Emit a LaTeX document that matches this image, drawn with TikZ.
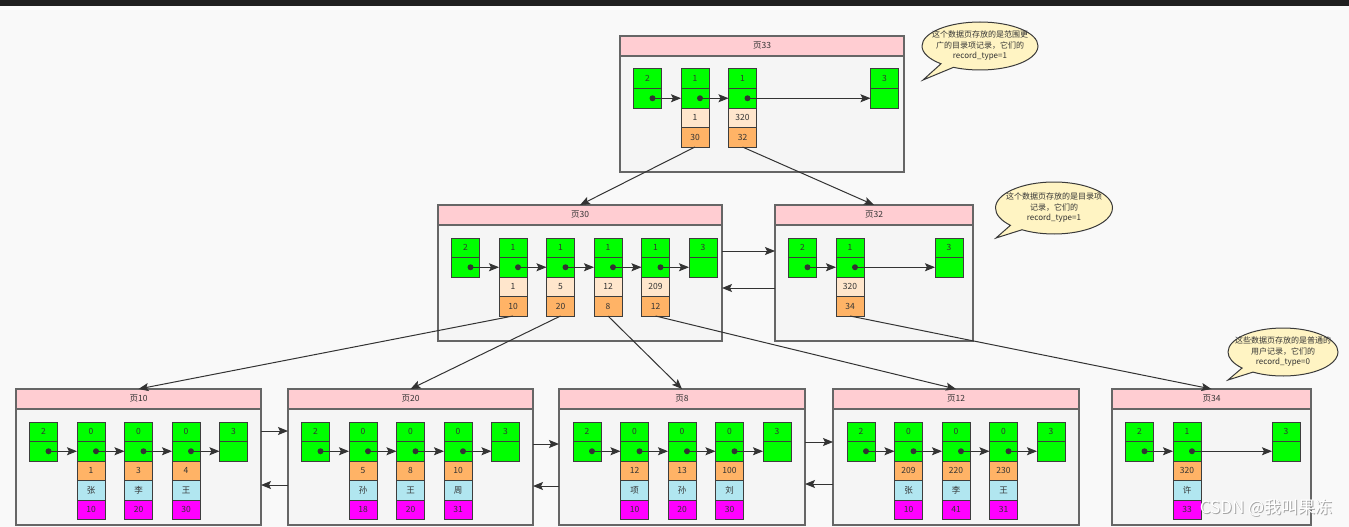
\documentclass[tikz,border=0pt]{standalone}
\usepackage{fontspec}
\setmainfont{Noto Sans CJK SC}
\usetikzlibrary{positioning,shapes.callouts,arrows.meta}

\definecolor{bgc}{HTML}{F9F9F9}
\definecolor{barc}{HTML}{1F1F1F}
\definecolor{pagefill}{HTML}{F5F5F5}
\definecolor{pageline}{HTML}{666666}
\definecolor{titlefill}{HTML}{FFCDD2}
\definecolor{recgreen}{HTML}{00FF00}
\definecolor{keylight}{HTML}{FFE6CC}
\definecolor{keyorange}{HTML}{FFB366}
\definecolor{nameblue}{HTML}{B1E6F0}
\definecolor{valmag}{HTML}{FF00FF}
\definecolor{notefill}{HTML}{FFF4C3}
\definecolor{notec}{HTML}{3A3A3A}
\definecolor{cellline}{HTML}{3D3D3D}
\definecolor{linec}{HTML}{333333}
\definecolor{txtc}{HTML}{333333}

\begin{document}
\begin{tikzpicture}[x=1pt, y=-1pt, node distance=0pt, font=\fontsize{8.5}{10}\selectfont,
    cell/.style = {draw=cellline, line width=1pt, minimum width=28pt, minimum height=19.5pt, inner sep=0pt, outer sep=0pt, text=txtc},
    grn/.style = {cell, fill=recgreen},
    lk/.style = {cell, fill=keylight},
    ok/.style = {cell, fill=keyorange},
    bn/.style = {cell, fill=nameblue},
    mv/.style = {cell, fill=valmag},
    ptitle/.style = {draw=pageline, line width=1.3pt, fill=titlefill, text=txtc, minimum height=20pt, inner sep=0pt, outer sep=0pt, anchor=north west},
    pbody/.style = {draw=pageline, line width=1.3pt, fill=pagefill, minimum height=116pt, inner sep=0pt, outer sep=0pt},
    dot/.style = {circle, fill=linec, minimum size=6pt, inner sep=0pt},
    link/.style = {draw=linec, line width=1pt, -{Stealth[length=10pt, width=8pt, inset=2pt]}},
    note/.style = {ellipse callout, draw=notec, line width=1pt, fill=notefill, inner sep=0pt, callout pointer width=10pt},
    notetext/.style = {align=center, text=txtc, font=\fontsize{8}{10.5}\selectfont}]

    \useasboundingbox (0,0) rectangle (1349,527);
    \fill[bgc] (0,0) rectangle (1349,527);
    \fill[barc] (0,0) rectangle (1349,6);

    % page 33
    \node[ptitle, minimum width=284pt] (p33t) at (620,36) {页33};
    \node[pbody, minimum width=284pt, below=of p33t] (p33) {};
    \node[grn, below right=13pt and 13.5pt of p33t.south west] (33-0) {2};
    \node[grn, below=of 33-0] (33-0b) {};
    \node[grn, right=19.5pt of 33-0] (33-1) {1};
    \node[grn, below=of 33-1] (33-1b) {};
    \node[lk, below=of 33-1b] (33-1k) {1};
    \node[ok, below=of 33-1k] (33-1p) {30};
    \node[grn, right=19.5pt of 33-1] (33-2) {1};
    \node[grn, below=of 33-2] (33-2b) {};
    \node[lk, below=of 33-2b] (33-2k) {320};
    \node[ok, below=of 33-2k] (33-2p) {32};
    \node[grn, right=114pt of 33-2] (33-3) {3};
    \node[grn, below=of 33-3] (33-3b) {};
    \node[dot] (33-0d) at ([xshift=-9pt]33-0b.east) {};
    \node[dot] (33-1d) at ([xshift=-9pt]33-1b.east) {};
    \node[dot] (33-2d) at ([xshift=-9pt]33-2b.east) {};
    \draw[link] (33-0d.center) -- (33-1b.west);
    \draw[link] (33-1d.center) -- (33-2b.west);
    \draw[link] (33-2d.center) -- (33-3b.west);

    % page 30
    \node[ptitle, minimum width=284pt] (p30t) at (438,205) {页30};
    \node[pbody, minimum width=284pt, below=of p30t] (p30) {};
    \node[grn, below right=13pt and 13.5pt of p30t.south west] (30-0) {2};
    \node[grn, below=of 30-0] (30-0b) {};
    \node[grn, right=19.5pt of 30-0] (30-1) {1};
    \node[grn, below=of 30-1] (30-1b) {};
    \node[lk, below=of 30-1b] (30-1k) {1};
    \node[ok, below=of 30-1k] (30-1p) {10};
    \node[grn, right=19.5pt of 30-1] (30-2) {1};
    \node[grn, below=of 30-2] (30-2b) {};
    \node[lk, below=of 30-2b] (30-2k) {5};
    \node[ok, below=of 30-2k] (30-2p) {20};
    \node[grn, right=19.5pt of 30-2] (30-3) {1};
    \node[grn, below=of 30-3] (30-3b) {};
    \node[lk, below=of 30-3b] (30-3k) {12};
    \node[ok, below=of 30-3k] (30-3p) {8};
    \node[grn, right=19.5pt of 30-3] (30-4) {1};
    \node[grn, below=of 30-4] (30-4b) {};
    \node[lk, below=of 30-4b] (30-4k) {209};
    \node[ok, below=of 30-4k] (30-4p) {12};
    \node[grn, right=19.5pt of 30-4] (30-5) {3};
    \node[grn, below=of 30-5] (30-5b) {};
    \node[dot] (30-0d) at ([xshift=-9pt]30-0b.east) {};
    \node[dot] (30-1d) at ([xshift=-9pt]30-1b.east) {};
    \node[dot] (30-2d) at ([xshift=-9pt]30-2b.east) {};
    \node[dot] (30-3d) at ([xshift=-9pt]30-3b.east) {};
    \node[dot] (30-4d) at ([xshift=-9pt]30-4b.east) {};
    \draw[link] (30-0d.center) -- (30-1b.west);
    \draw[link] (30-1d.center) -- (30-2b.west);
    \draw[link] (30-2d.center) -- (30-3b.west);
    \draw[link] (30-3d.center) -- (30-4b.west);
    \draw[link] (30-4d.center) -- (30-5b.west);

    % page 32
    \node[ptitle, minimum width=198pt] (p32t) at (775,205) {页32};
    \node[pbody, minimum width=198pt, below=of p32t] (p32) {};
    \node[grn, below right=13pt and 13.5pt of p32t.south west] (32-0) {2};
    \node[grn, below=of 32-0] (32-0b) {};
    \node[grn, right=19.5pt of 32-0] (32-1) {1};
    \node[grn, below=of 32-1] (32-1b) {};
    \node[lk, below=of 32-1b] (32-1k) {320};
    \node[ok, below=of 32-1k] (32-1p) {34};
    \node[grn, right=71pt of 32-1] (32-2) {3};
    \node[grn, below=of 32-2] (32-2b) {};
    \node[dot] (32-0d) at ([xshift=-9pt]32-0b.east) {};
    \node[dot] (32-1d) at ([xshift=-9pt]32-1b.east) {};
    \draw[link] (32-0d.center) -- (32-1b.west);
    \draw[link] (32-1d.center) -- (32-2b.west);

    % page 10
    \node[ptitle, minimum width=245pt] (p10t) at (16,389) {页10};
    \node[pbody, minimum width=245pt, below=of p10t] (p10) {};
    \node[grn, below right=13pt and 13.5pt of p10t.south west] (10-0) {2};
    \node[grn, below=of 10-0] (10-0b) {};
    \node[grn, right=19.5pt of 10-0] (10-1) {0};
    \node[grn, below=of 10-1] (10-1b) {};
    \node[ok, below=of 10-1b] (10-1k) {1};
    \node[bn, below=of 10-1k] (10-1n) {张};
    \node[mv, below=of 10-1n] (10-1v) {10};
    \node[grn, right=19.5pt of 10-1] (10-2) {0};
    \node[grn, below=of 10-2] (10-2b) {};
    \node[ok, below=of 10-2b] (10-2k) {3};
    \node[bn, below=of 10-2k] (10-2n) {李};
    \node[mv, below=of 10-2n] (10-2v) {20};
    \node[grn, right=19.5pt of 10-2] (10-3) {0};
    \node[grn, below=of 10-3] (10-3b) {};
    \node[ok, below=of 10-3b] (10-3k) {4};
    \node[bn, below=of 10-3k] (10-3n) {王};
    \node[mv, below=of 10-3n] (10-3v) {30};
    \node[grn, right=19.5pt of 10-3] (10-4) {3};
    \node[grn, below=of 10-4] (10-4b) {};
    \node[dot] (10-0d) at ([xshift=-9pt]10-0b.east) {};
    \node[dot] (10-1d) at ([xshift=-9pt]10-1b.east) {};
    \node[dot] (10-2d) at ([xshift=-9pt]10-2b.east) {};
    \node[dot] (10-3d) at ([xshift=-9pt]10-3b.east) {};
    \draw[link] (10-0d.center) -- (10-1b.west);
    \draw[link] (10-1d.center) -- (10-2b.west);
    \draw[link] (10-2d.center) -- (10-3b.west);
    \draw[link] (10-3d.center) -- (10-4b.west);

    % page 20
    \node[ptitle, minimum width=245pt] (p20t) at (288,389) {页20};
    \node[pbody, minimum width=245pt, below=of p20t] (p20) {};
    \node[grn, below right=13pt and 13.5pt of p20t.south west] (20-0) {2};
    \node[grn, below=of 20-0] (20-0b) {};
    \node[grn, right=19.5pt of 20-0] (20-1) {0};
    \node[grn, below=of 20-1] (20-1b) {};
    \node[ok, below=of 20-1b] (20-1k) {5};
    \node[bn, below=of 20-1k] (20-1n) {孙};
    \node[mv, below=of 20-1n] (20-1v) {18};
    \node[grn, right=19.5pt of 20-1] (20-2) {0};
    \node[grn, below=of 20-2] (20-2b) {};
    \node[ok, below=of 20-2b] (20-2k) {8};
    \node[bn, below=of 20-2k] (20-2n) {王};
    \node[mv, below=of 20-2n] (20-2v) {20};
    \node[grn, right=19.5pt of 20-2] (20-3) {0};
    \node[grn, below=of 20-3] (20-3b) {};
    \node[ok, below=of 20-3b] (20-3k) {10};
    \node[bn, below=of 20-3k] (20-3n) {周};
    \node[mv, below=of 20-3n] (20-3v) {31};
    \node[grn, right=19.5pt of 20-3] (20-4) {3};
    \node[grn, below=of 20-4] (20-4b) {};
    \node[dot] (20-0d) at ([xshift=-9pt]20-0b.east) {};
    \node[dot] (20-1d) at ([xshift=-9pt]20-1b.east) {};
    \node[dot] (20-2d) at ([xshift=-9pt]20-2b.east) {};
    \node[dot] (20-3d) at ([xshift=-9pt]20-3b.east) {};
    \draw[link] (20-0d.center) -- (20-1b.west);
    \draw[link] (20-1d.center) -- (20-2b.west);
    \draw[link] (20-2d.center) -- (20-3b.west);
    \draw[link] (20-3d.center) -- (20-4b.west);

    % page 8
    \node[ptitle, minimum width=246pt] (p8t) at (559,389) {页8};
    \node[pbody, minimum width=246pt, below=of p8t] (p8) {};
    \node[grn, below right=13pt and 14pt of p8t.south west] (8-0) {2};
    \node[grn, below=of 8-0] (8-0b) {};
    \node[grn, right=19.5pt of 8-0] (8-1) {0};
    \node[grn, below=of 8-1] (8-1b) {};
    \node[ok, below=of 8-1b] (8-1k) {12};
    \node[bn, below=of 8-1k] (8-1n) {项};
    \node[mv, below=of 8-1n] (8-1v) {10};
    \node[grn, right=19.5pt of 8-1] (8-2) {0};
    \node[grn, below=of 8-2] (8-2b) {};
    \node[ok, below=of 8-2b] (8-2k) {13};
    \node[bn, below=of 8-2k] (8-2n) {孙};
    \node[mv, below=of 8-2n] (8-2v) {20};
    \node[grn, right=19.5pt of 8-2] (8-3) {0};
    \node[grn, below=of 8-3] (8-3b) {};
    \node[ok, below=of 8-3b] (8-3k) {100};
    \node[bn, below=of 8-3k] (8-3n) {刘};
    \node[mv, below=of 8-3n] (8-3v) {30};
    \node[grn, right=19.5pt of 8-3] (8-4) {3};
    \node[grn, below=of 8-4] (8-4b) {};
    \node[dot] (8-0d) at ([xshift=-9pt]8-0b.east) {};
    \node[dot] (8-1d) at ([xshift=-9pt]8-1b.east) {};
    \node[dot] (8-2d) at ([xshift=-9pt]8-2b.east) {};
    \node[dot] (8-3d) at ([xshift=-9pt]8-3b.east) {};
    \draw[link] (8-0d.center) -- (8-1b.west);
    \draw[link] (8-1d.center) -- (8-2b.west);
    \draw[link] (8-2d.center) -- (8-3b.west);
    \draw[link] (8-3d.center) -- (8-4b.west);

    % page 12
    \node[ptitle, minimum width=246pt] (p12t) at (833,389) {页12};
    \node[pbody, minimum width=246pt, below=of p12t] (p12) {};
    \node[grn, below right=13pt and 14pt of p12t.south west] (12-0) {2};
    \node[grn, below=of 12-0] (12-0b) {};
    \node[grn, right=19.5pt of 12-0] (12-1) {0};
    \node[grn, below=of 12-1] (12-1b) {};
    \node[ok, below=of 12-1b] (12-1k) {209};
    \node[bn, below=of 12-1k] (12-1n) {张};
    \node[mv, below=of 12-1n] (12-1v) {10};
    \node[grn, right=19.5pt of 12-1] (12-2) {0};
    \node[grn, below=of 12-2] (12-2b) {};
    \node[ok, below=of 12-2b] (12-2k) {220};
    \node[bn, below=of 12-2k] (12-2n) {李};
    \node[mv, below=of 12-2n] (12-2v) {41};
    \node[grn, right=19.5pt of 12-2] (12-3) {0};
    \node[grn, below=of 12-3] (12-3b) {};
    \node[ok, below=of 12-3b] (12-3k) {230};
    \node[bn, below=of 12-3k] (12-3n) {王};
    \node[mv, below=of 12-3n] (12-3v) {31};
    \node[grn, right=19.5pt of 12-3] (12-4) {3};
    \node[grn, below=of 12-4] (12-4b) {};
    \node[dot] (12-0d) at ([xshift=-9pt]12-0b.east) {};
    \node[dot] (12-1d) at ([xshift=-9pt]12-1b.east) {};
    \node[dot] (12-2d) at ([xshift=-9pt]12-2b.east) {};
    \node[dot] (12-3d) at ([xshift=-9pt]12-3b.east) {};
    \draw[link] (12-0d.center) -- (12-1b.west);
    \draw[link] (12-1d.center) -- (12-2b.west);
    \draw[link] (12-2d.center) -- (12-3b.west);
    \draw[link] (12-3d.center) -- (12-4b.west);

    % page 34
    \node[ptitle, minimum width=199pt] (p34t) at (1112,389) {页34};
    \node[pbody, minimum width=199pt, below=of p34t] (p34) {};
    \node[grn, below right=13pt and 13.5pt of p34t.south west] (34-0) {2};
    \node[grn, below=of 34-0] (34-0b) {};
    \node[grn, right=19.5pt of 34-0] (34-1) {1};
    \node[grn, below=of 34-1] (34-1b) {};
    \node[ok, below=of 34-1b] (34-1k) {320};
    \node[bn, below=of 34-1k] (34-1n) {许};
    \node[mv, below=of 34-1n] (34-1v) {33};
    \node[grn, right=71pt of 34-1] (34-2) {3};
    \node[grn, below=of 34-2] (34-2b) {};
    \node[dot] (34-0d) at ([xshift=-9pt]34-0b.east) {};
    \node[dot] (34-1d) at ([xshift=-9pt]34-1b.east) {};
    \draw[link] (34-0d.center) -- (34-1b.west);
    \draw[link] (34-1d.center) -- (34-2b.west);

    % parent -> child pages
    \draw[link] (33-1p.south) -- (p30t.north);
    \draw[link] (33-2p.south) -- (p32t.north);
    \draw[link] (30-1p.south) -- (p10t.north);
    \draw[link] (30-2p.south) -- (p20t.north);
    \draw[link] (30-3p.south) -- (p8t.north);
    \draw[link] (30-4p.south) -- (p12t.north);
    \draw[link] (32-1p.south) -- (p34t.north);

    % sibling pages
    \draw[link] ([yshift=-26pt]p30.north east) -- ([yshift=-26pt]p32.north west);
    \draw[link] ([yshift=-63pt]p32.north west) -- ([yshift=-63pt]p30.north east);
    \draw[link] ([yshift=-22pt]p10.north east) -- ([yshift=-22pt]p20.north west);
    \draw[link] ([yshift=-76pt]p20.north west) -- ([yshift=-76pt]p10.north east);
    \draw[link] ([yshift=-35pt]p20.north east) -- ([yshift=-35pt]p8.north west);
    \draw[link] ([yshift=-77pt]p8.north west) -- ([yshift=-77pt]p20.north east);
    \draw[link] ([yshift=-33pt]p8.north east) -- ([yshift=-33pt]p12.north west);
    \draw[link] ([yshift=-75pt]p12.north west) -- ([yshift=-75pt]p8.north east);

    % notes
    \node[note, minimum width=116pt, minimum height=48pt, callout absolute pointer={(923,80)},
        label={[notetext]center:{这个数据页存放的是范围更\\广的目录项记录，它们的\\record\_type=1}}] (n33) at (980,46) {};
    \node[note, minimum width=117pt, minimum height=52pt, callout absolute pointer={(996,238)},
        label={[notetext]center:{这个数据页存放的是目录项\\记录，它们的\\record\_type=1}}] (n32) at (1054,208) {};
    \node[note, minimum width=110pt, minimum height=48pt, callout absolute pointer={(1228,380)},
        label={[notetext]center:{这些数据页存放的是普通的\\用户记录，它们的\\record\_type=0}}] (n34) at (1283,352) {};

    \node[text=gray!70, font=\fontsize{17}{17}\selectfont] (wm-s) at (1267,509) {CSDN @我叫果冻};
    \node[text=white, font=\fontsize{17}{17}\selectfont] (wm) at (1266,508) {CSDN @我叫果冻};
\end{tikzpicture}
\end{document}
